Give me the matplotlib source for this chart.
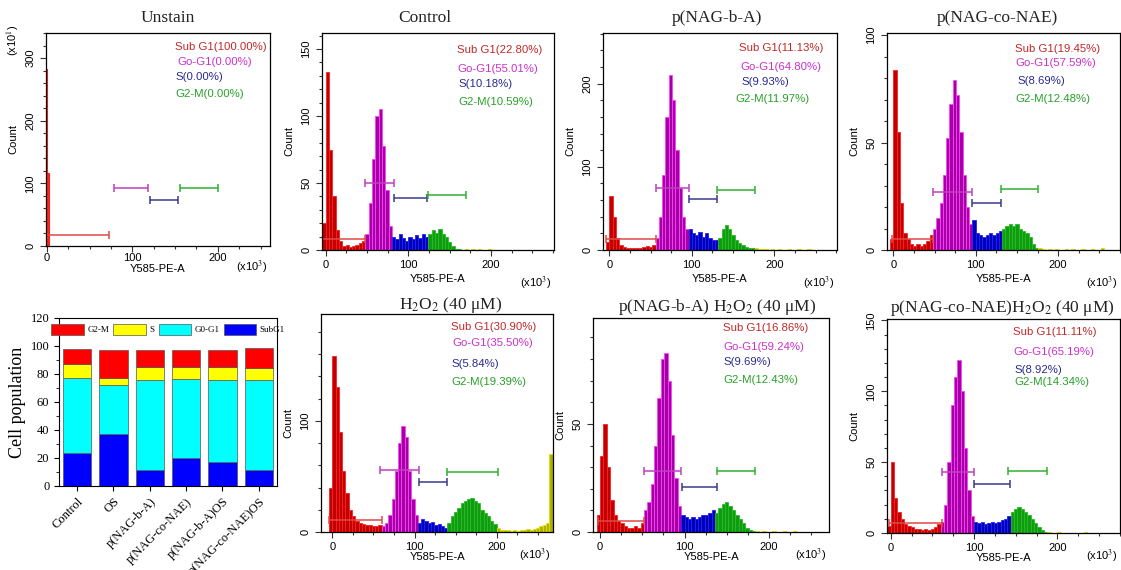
import numpy as np
import matplotlib.pyplot as plt
from matplotlib.ticker import MultipleLocator
from matplotlib.patches import Patch

plt.rcParams['font.family'] = ['Liberation Sans', 'DejaVu Sans']
plt.rcParams['mathtext.fontset'] = 'stix'

W, H = 1121, 570
SERIF = ['Liberation Serif', 'DejaVu Serif']

# ---- histogram counts (bins of 4 x10^3, first bin starts at -4) ----
unstain = [282, 0, 117]  # bins of 1, starting at -0.5 (x10^1 counts)
control = [20, 133, 75, 40, 15, 7, 3, 4, 2, 3, 4, 5, 7,
           12, 35, 68, 100, 105, 78, 45, 18,
           10, 8, 12, 9, 7, 10, 8, 11, 9, 12, 10,
           12, 15, 13, 16, 12, 10, 6, 3, 1,
           1, 0, 1, 0, 1, 0, 1, 0, 0, 1]
nag_ba = [10, 65, 40, 15, 6, 4, 3, 3, 2, 3, 3, 4, 5, 4, 6,
          15, 40, 90, 160, 210, 180, 120, 75, 40, 25,
          25, 20, 18, 22, 16, 20, 15, 12, 12,
          15, 25, 30, 25, 18, 12, 8, 6, 4, 3, 2,
          2, 1, 1, 1, 0, 1, 0, 1, 0, 0, 1, 0, 0, 1, 0, 0, 1]
nag_co = [5, 84, 55, 22, 8, 5, 3, 2, 3, 2, 3, 4, 7,
          10, 15, 22, 35, 52, 68, 79, 72, 55, 35, 20, 12,
          14, 8, 7, 6, 7, 8, 7, 8, 9,
          10, 11, 12, 11, 12, 10, 9, 8, 6, 3, 1,
          0.7, 0.5, 0, 0.6, 0, 0.5, 0, 0, 0.6, 0, 0.5, 0, 0, 0.6, 0, 0, 0.5, 0, 0, 0.7]
h2o2 = [40, 158, 130, 90, 55, 35, 20, 14, 10, 8, 7, 6, 6, 5, 5, 6,
        5, 8, 15, 30, 55, 80, 95, 85, 55, 30, 15, 8,
        12, 10, 8, 9, 6, 7, 5, 4,
        8, 14, 18, 22, 26, 28, 30, 31, 28, 26, 20, 17, 14, 10, 7, 4, 2,
        2, 2, 1, 2, 1, 2, 2, 3, 2, 3, 4, 5, 6, 8, 70]
ba_h2o2 = [8, 35, 50, 30, 15, 8, 5, 4, 3, 2, 2, 3, 2, 4,
           10, 14, 22, 40, 62, 80, 83, 70, 45, 25, 12,
           8, 7, 6, 7, 6, 7, 8, 8, 9, 10, 9,
           11, 13, 14, 12, 10, 8, 6, 4, 2, 1, 0.5,
           0.4, 0, 0.4, 0, 0, 0.4, 0, 0, 0.3, 0, 0, 0.4]
co_h2o2 = [5, 50, 25, 15, 10, 6, 5, 4, 3, 3, 2, 3, 2, 3, 4, 6, 8,
           20, 50, 90, 110, 122, 100, 60, 30, 12,
           8, 7, 8, 6, 7, 8, 7, 8, 9, 10,
           12, 15, 17, 18, 17, 15, 13, 10, 7, 4, 2, 1,
           0.4, 0, 0, 0.4, 0, 0, 0, 0.3, 0, 0, 0, 0.4]

# gates: (start, end) for Sub G1, Go-G1, S, G2-M and their heights
gates = {
    'unstain': ([(0, 73), (78, 118), (121, 153), (156, 200)], [17.6, 92, 73.5, 93]),
    'control': ([(-5, 47), (47, 82), (82, 123), (124, 170)], [8, 50, 38.5, 41]),
    'nag_ba': ([(-4, 56), (56, 96), (96, 131), (131, 176)], [13, 75, 61, 72]),
    'nag_co': ([(-2, 48), (48, 96), (96, 131), (131, 176)], [5, 27, 22, 28.5]),
    'h2o2': ([(-4, 60), (58, 105), (106, 140), (140, 202)], [11, 56, 44.6, 53.5]),
    'ba_h2o2': ([(-2, 52), (52, 96), (97, 138), (138, 183)], [5, 28, 21, 28]),
    'co_h2o2': ([(-2, 62), (62, 100), (100, 143), (141, 188)], [7.4, 43, 34.5, 44]),
}

pct = {
    'unstain': ['100.00', '0.00', '0.00', '0.00'],
    'control': ['22.80', '55.01', '10.18', '10.59'],
    'nag_ba': ['11.13', '64.80', '9.93', '11.97'],
    'nag_co': ['19.45', '57.59', '8.69', '12.48'],
    'h2o2': ['30.90', '35.50', '5.84', '19.39'],
    'ba_h2o2': ['16.86', '59.24', '9.69', '12.43'],
    'co_h2o2': ['11.11', '65.19', '8.92', '14.34'],
}
titles = {
    'unstain': 'Unstain', 'control': 'Control', 'nag_ba': 'p(NAG-b-A)',
    'nag_co': 'p(NAG-co-NAE)', 'h2o2': r'H$_2$O$_2$ (40 μM)',
    'ba_h2o2': r'p(NAG-b-A) H$_2$O$_2$ (40 μM)',
    'co_h2o2': r'p(NAG-co-NAE)H$_2$O$_2$ (40 μM)',
}

# cell population bar chart
groups = ['Control', 'OS', 'p(NAG-b-A)', 'p(NAG-co-NAE)', 'p(NAG-b-A)OS', 'p(NAG-co-NAE)OS']
subg1 = [23.3, 37.0, 11.4, 19.7, 17.3, 11.4]
g0g1 = [53.9, 35.0, 64.1, 57.0, 58.7, 64.6]
s_phase = [10.2, 5.4, 9.5, 8.3, 9.0, 8.3]
g2m = [10.6, 19.6, 12.4, 12.4, 12.4, 14.5]

face_cols = ['#c00000', '#a400a4', '#0000b4', '#129a12', '#b0b000']
edge_cols = ['#ff2020', '#ff40ff', '#2020ff', '#20c020', '#e0e000']
gate_cols = ['#e04848', '#c040c0', '#3a3a90', '#30b030']
text_cols = ['#c02828', '#cc30cc', '#2a2a90', '#28a028']
phase_names = ['Sub G1', 'Go-G1', 'S', 'G2-M']

fig = plt.figure(figsize=(W / 100, H / 100), dpi=100)


def px_axes(l, t, r, b):
    return fig.add_axes([l / W, 1 - b / H, (r - l) / W, (b - t) / H])


def hist_panel(key, counts, start, bw, box, xlim, ylim, ymaj, ymin, title_xy, text_xy,
               lab_off=(29, 33), xpad=3.5):
    l, t, r, b = box
    ax = px_axes(*box)
    counts = np.asarray(counts, float)
    left = start + bw * np.arange(len(counts))
    g, hts = gates[key]
    bounds = [g[0][1], g[1][1], g[2][1], g[3][1]]
    idx = np.searchsorted(bounds, left + bw / 2, side='right')
    if key == 'unstain':
        idx[:] = 0
    ax.bar(left, counts, width=bw, align='edge',
           color=[face_cols[i] for i in idx],
           edgecolor=[edge_cols[i] for i in idx], linewidth=0.8 if bw < 2 else 0.6)
    for (a, e), h, c in zip(g, hts, gate_cols):
        ax.errorbar((a + e) / 2, h, xerr=(e - a) / 2, color=c, capsize=3,
                    lw=1.1, capthick=1.1)
    ax.set_xlim(*xlim)
    ax.set_ylim(*ylim)
    ax.xaxis.set_major_locator(MultipleLocator(100))
    ax.xaxis.set_minor_locator(MultipleLocator(25))
    ax.yaxis.set_major_locator(MultipleLocator(ymaj))
    ax.yaxis.set_minor_locator(MultipleLocator(ymin))
    ax.tick_params(which='both', direction='out', top=False, right=False,
                   labelsize=8, width=0.8, colors='#333333', labelcolor='black')
    ax.tick_params(which='major', length=4)
    ax.tick_params(which='minor', length=2.5)
    ax.tick_params(axis='x', pad=xpad)
    ax.tick_params(axis='y', labelrotation=90)
    for lab in ax.get_yticklabels():
        lab.set_va('center')
    for sp in ax.spines.values():
        sp.set_linewidth(0.9)
    # phase percentages
    for (tx, ty), name, p, c in zip(text_xy, phase_names, pct[key], text_cols):
        fig.text(tx / W, 1 - ty / H, f'{name}({p}%)', color=c, fontsize=8.2,
                 ha='left', va='center')
    fig.text(title_xy[0] / W, 1 - title_xy[1] / H, titles[key], family=SERIF,
             fontsize=12.5, ha='center', va='center', color='#222222')
    fig.text((l + r) / 2 / W, 1 - (b + lab_off[0]) / H, 'Y585-PE-A', fontsize=8,
             ha='center', va='center')
    fig.text((r - 18) / W, 1 - (b + lab_off[1]) / H, r'(x10$^3$)', fontsize=8,
             ha='center', va='center')
    fig.text((l - 33) / W, 1 - (t + b) / 2 / H, 'Count', fontsize=8,
             rotation=90, ha='center', va='center')
    return ax


hist_panel('unstain', unstain, -0.5, 1, (46, 33, 270, 246), (-1, 261), (0, 340), 100, 20,
           (168, 18), [(175, 47), (177, 62), (175, 77), (175, 94)], lab_off=(23, 21),
           xpad=1.0)
fig.text(13 / W, 1 - 40 / H, r'(x10$^1$)', fontsize=8, rotation=90,
         ha='center', va='center')
hist_panel('control', control, -4, 4, (322, 33, 554, 250), (-4.5, 276), (0, 162), 50, 10,
           (425, 18), [(457, 50), (457, 69), (458, 84), (458, 102)])
hist_panel('nag_ba', nag_ba, -4, 4, (603, 33, 837, 250), (-7.7, 276), (0, 261), 100, 20,
           (717, 18), [(739, 48), (740, 67), (741, 82), (735, 99)])
hist_panel('nag_co', nag_co, -4, 4, (887, 33, 1120, 250), (-7.7, 275), (0, 101), 50, 10,
           (997, 18), [(1015, 49), (1015, 63), (1017, 81), (1015, 99)])
hist_panel('h2o2', h2o2, -4, 4, (321, 314, 553, 532), (-13.8, 268.5), (0, 196), 100, 20,
           (451, 305), [(451, 327), (452, 343), (451, 364), (451, 382)], lab_off=(25, 23))
hist_panel('ba_h2o2', ba_h2o2, -4, 4, (593, 318, 829, 532), (-8.3, 271), (0, 99), 50, 10,
           (717, 307), [(723, 328), (723, 347), (723, 362), (723, 380)], lab_off=(25, 23))
hist_panel('co_h2o2', co_h2o2, -4, 4, (887, 319, 1120, 533), (-4.4, 275), (0, 151), 50, 10,
           (1002, 308), [(1013, 332), (1013, 352), (1014, 370), (1014, 382)], lab_off=(25, 23))

# ---- stacked bar chart ----
ax = px_axes(59, 318, 277, 486)
x = np.arange(len(groups))
bottom = np.zeros(len(groups))
bar_cols = ['#0000ff', '#00ffff', '#ffff00', '#ff0000']
for vals, c in zip([subg1, g0g1, s_phase, g2m], bar_cols):
    ax.bar(x, vals, width=0.78, bottom=bottom, color=c, edgecolor='#555555', linewidth=0.5)
    bottom += np.asarray(vals)
ax.set_xlim(-0.5, len(groups) - 0.5)
ax.set_ylim(0, 120)
ax.yaxis.set_major_locator(MultipleLocator(20))
ax.yaxis.set_minor_locator(MultipleLocator(10))
ax.set_xticks(x)
ax.set_xticklabels(groups, rotation=45, ha='right', rotation_mode='anchor',
                   family=SERIF, fontsize=7.5)
for lab in ax.get_yticklabels():
    lab.set_family(SERIF)
ax.tick_params(which='both', direction='out', labelsize=9)
ax.tick_params(which='minor', length=2)
ax.set_ylabel('Cell population', family=SERIF, fontsize=13, labelpad=3)
handles = [Patch(facecolor=c, edgecolor='#555555', linewidth=0.5) for c in bar_cols[::-1]]
ax.legend(handles, ['G2-M', 'S', 'G0-G1', 'SubG1'], ncol=4, loc='upper center',
          bbox_to_anchor=(0.5, 1.0), frameon=False, handlelength=3.6, handleheight=1.5,
          columnspacing=0.5, handletextpad=0.35, borderaxespad=0.25,
          prop={'family': SERIF, 'size': 6.5})

fig.savefig('out.png', dpi=100)
